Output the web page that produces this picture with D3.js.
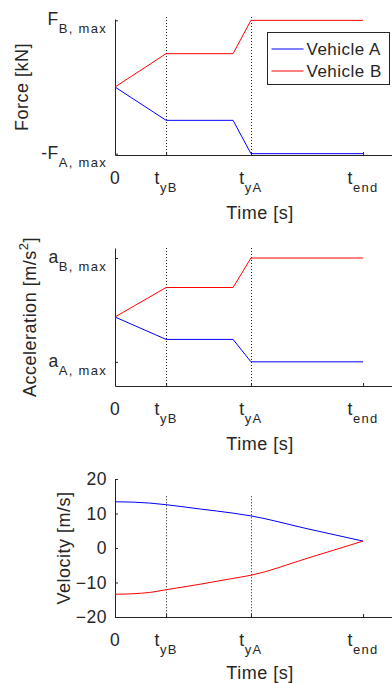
<!DOCTYPE html>
<html>
<head>
<meta charset="utf-8">
<script src="https://cdn.jsdelivr.net/npm/d3@7"></script>
<style>
    body { margin: 0; background: #fff; }
    text { font-family: "Liberation Sans", Arial, sans-serif; fill: #262626; letter-spacing: 0.5px; }
    .sub { letter-spacing: 1.3px; }
    .axis path, .axis line { stroke: #262626; }
</style>
</head>
<body>
<div id="vis"></div>
<script>
// time is normalised so that t_end = 1
var tickTimes = [0, 0.206, 0.548, 1];
var tickMain = ['0', 't', 't', 't'];
var tickSub = ['', 'yB', 'yA', 'end'];
var guideTimes = [0.206, 0.548];

// force + acceleration profiles (same breakpoints)
var profileTime = [0, 0.206, 0.476, 0.548, 1];
var forceA = [0, -0.5, -0.5, -1, -1];
var forceB = [0, 0.5, 0.5, 1, 1];
var forceTicks = [-1, 1];
var forceTickMain = ['-F', 'F'];
var forceTickSub = ['A, max', 'B, max'];

var accelA = [0, -0.38, -0.38, -0.76, -0.76];
var accelB = [0, 0.5, 0.5, 1, 1];
var accelTicks = [-0.76, 1];
var accelTickMain = ['a', 'a'];
var accelTickSub = ['A, max', 'B, max'];

// velocity [m/s]
var velTime = [0, 0.073, 0.14, 0.206, 0.343, 0.476, 0.548, 0.774, 1];
var velA = [13.4, 13.3, 13.02, 12.55, 11.3, 10.1, 9.3, 5.6, 2.0];
var velB = [-13.4, -13.26, -12.88, -12.1, -10.5, -8.8, -7.9, -3.0, 2.0];
var velTicks = [-20, -10, 0, 10, 20];

var seriesNames = ['Vehicle A', 'Vehicle B'];

(function(){
    var width = 392,
        height = 683,
        left = 115;
    var colors = ['#0000ff', '#ff0000'];
    var tickFont = 17.5,
        subFont = 13,
        labelFont = 18;

    var svg = d3.select('#vis')
                .append('svg')
                .attr('width', width)
                .attr('height', height);

    var xScale = d3.scaleLinear()
                   .domain([0, 1.169])
                   .range([left, 405]);

    var panels = [
        {top: 19, bottom: 155, domain: [-1.02, 1.02], guide: [-1.02, 1.05],
         time: profileTime, a: forceA, b: forceB,
         ticks: forceTicks, main: forceTickMain, sub: forceTickSub,
         label: 'Force [kN]', sup: '', labelEnd: '', labelX: 28, titleY: 64, legend: true},
        {top: 248, bottom: 386, domain: [-1.17, 1.17], guide: [-1.17, 1.17],
         time: profileTime, a: accelA, b: accelB,
         ticks: accelTicks, main: accelTickMain, sub: accelTickSub,
         label: 'Acceleration [m/s', sup: '2', labelEnd: ']', labelX: 36, titleY: 64},
        {top: 479, bottom: 617, domain: [-20, 20], guide: [-20, 15],
         time: velTime, a: velA, b: velB,
         ticks: velTicks, main: null,
         label: 'Velocity [m/s]', sup: '', labelEnd: '', labelX: 70, titleY: 62, smooth: true}
    ];

    panels.forEach((p) => {
        var yScale = d3.scaleLinear()
                       .domain(p.domain)
                       .range([p.bottom, p.top]);
        var g = svg.append('g');

        // dotted guides at t_yB and t_yA
        g.selectAll('.guide')
         .data(guideTimes)
         .enter()
         .append('line')
         .attr('class', 'guide')
         .attr('x1', (d) => Math.round(xScale(d)) + 0.5)
         .attr('x2', (d) => Math.round(xScale(d)) + 0.5)
         .attr('y1', yScale(p.guide[1]))
         .attr('y2', yScale(p.guide[0]))
         .attr('stroke', '#222')
         .attr('stroke-width', 1)
         .attr('stroke-dasharray', '1,2');

        // axes, ticks point inward
        var xAxis = d3.axisBottom(xScale)
                      .tickValues(tickTimes)
                      .tickSizeInner(-3)
                      .tickSizeOuter(0)
                      .tickFormat('');
        g.append('g')
         .attr('class', 'axis')
         .attr('transform', `translate(0, ${p.bottom})`)
         .call(xAxis);

        var yAxis = d3.axisLeft(yScale)
                      .tickValues(p.ticks)
                      .tickSizeInner(-3)
                      .tickSizeOuter(0)
                      .tickPadding(8);
        if (p.main) yAxis.tickFormat('');
        var yg = g.append('g')
                  .attr('class', 'axis')
                  .attr('transform', `translate(${left}, 0)`)
                  .call(yAxis);
        yg.selectAll('text')
          .attr('font-size', tickFont)
          .attr('font-family', null)
          .attr('fill', null);

        // y tick labels with subscripts
        if (p.main) {
            var yl = g.selectAll('.ytl')
                      .data(p.ticks)
                      .enter()
                      .append('text')
                      .attr('class', 'ytl')
                      .attr('x', left - 8)
                      .attr('y', (d) => yScale(d) + 5)
                      .attr('text-anchor', 'end');
            yl.append('tspan')
              .attr('font-size', tickFont)
              .text((d, i) => p.main[i]);
            yl.append('tspan')
              .attr('class', 'sub')
              .attr('font-size', subFont)
              .attr('dy', 8)
              .text((d, i) => p.sub[i]);
        }

        // x tick labels
        var xl = g.selectAll('.xtl')
                  .data(tickTimes)
                  .enter()
                  .append('text')
                  .attr('class', 'xtl')
                  .attr('x', (d) => xScale(d))
                  .attr('y', p.bottom + 29)
                  .attr('text-anchor', 'middle');
        xl.append('tspan')
          .attr('font-size', tickFont)
          .text((d, i) => tickMain[i]);
        xl.append('tspan')
          .attr('class', 'sub')
          .attr('font-size', subFont)
          .attr('dy', 8)
          .text((d, i) => tickSub[i]);

        g.append('text')
         .attr('x', (xScale.range()[0] + xScale.range()[1]) / 2)
         .attr('y', p.bottom + p.titleY)
         .attr('text-anchor', 'middle')
         .attr('font-size', labelFont)
         .text('Time [s]');

        var ylab = g.append('text')
                    .attr('transform', `translate(${p.labelX}, ${(p.top + p.bottom) / 2}) rotate(-90)`)
                    .attr('text-anchor', 'middle')
                    .attr('font-size', labelFont);
        ylab.append('tspan').text(p.label);
        if (p.sup) {
            ylab.append('tspan').attr('font-size', subFont).attr('dy', -8).text(p.sup);
            ylab.append('tspan').attr('dy', 8).text(p.labelEnd);
        }

        // series
        var line = d3.line()
                     .x((d) => xScale(d[0]))
                     .y((d) => yScale(d[1]));
        if (p.smooth) line.curve(d3.curveMonotoneX);

        [p.a, p.b].forEach((vals, k) => {
            g.append('path')
             .datum(p.time.map((t, i) => [t, vals[i]]))
             .attr('d', line)
             .attr('fill', 'none')
             .attr('stroke', colors[k])
             .attr('stroke-width', 1);
        });

        if (p.legend) {
            var lg = g.append('g')
                      .attr('transform', 'translate(267.5, 32.5)');
            lg.append('rect')
              .attr('width', 122)
              .attr('height', 52)
              .attr('fill', '#fff')
              .attr('stroke', '#262626')
              .attr('stroke-width', 1);
            seriesNames.forEach((name, k) => {
                lg.append('line')
                  .attr('x1', 4)
                  .attr('x2', 36)
                  .attr('y1', 16.5 + k * 22)
                  .attr('y2', 16.5 + k * 22)
                  .attr('stroke', colors[k]);
                lg.append('text')
                  .attr('x', 39)
                  .attr('y', 22 + k * 22)
                  .attr('font-size', 17)
                  .text(name);
            });
        }
    });
})();
</script>
</body>
</html>
